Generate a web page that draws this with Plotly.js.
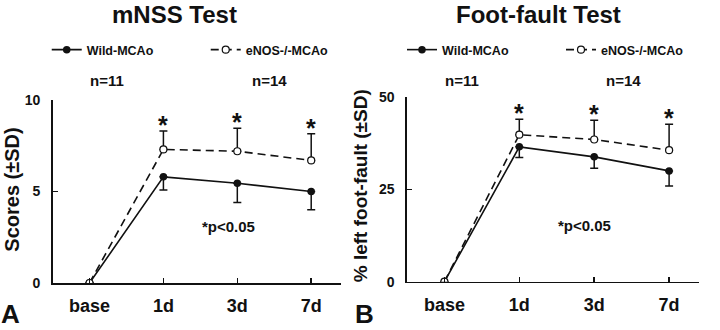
<!DOCTYPE html>
<html><head><meta charset="utf-8">
<script src="https://cdn.plot.ly/plotly-3.0.1.min.js"></script>
<style>html,body{margin:0;padding:0;background:#fff}#c{width:720px;height:330px}</style>
</head><body><div id="c"></div>
<script>
const categories = ['base','1d','3d','7d'];
const seriesNames = ['Wild-MCAo','eNOS-/-MCAo'];
// Panel A: mNSS scores
const wildA = [0, 5.8, 5.45, 5.0];
const wildA_sd = [0, 0.72, 1.05, 1.0];
const enosA = [0, 7.3, 7.2, 6.7];
const enosA_sd = [0, 1.0, 1.25, 1.45];
// Panel B: foot-fault %
const wildB = [0, 36.5, 33.8, 30.0];
const wildB_sd = [0, 2.9, 3.1, 4.1];
const enosB = [0, 39.8, 38.5, 35.6];
const enosB_sd = [0, 4.2, 5.2, 7.0];
const sigIdx = [1, 2, 3];
const yTicksA = [0, 5, 10];
const yTicksB = [0, 25, 50];

const FONT = 'Liberation Sans, Arial, sans-serif';
const INK = '#111';
const zeros = categories.map(() => 0);

function wild(y, sd, xa, ya, leg) {
  return {x: categories, y: y, xaxis: xa, yaxis: ya, name: seriesNames[0], legend: leg,
    mode: 'lines+markers', line: {color: INK, width: 1.6},
    marker: {symbol: 'circle', size: 7.5, color: INK},
    error_y: {type: 'data', symmetric: false, array: zeros, arrayminus: sd, color: INK, thickness: 1.5, width: 4}};
}
function enos(y, sd, xa, ya, leg) {
  return {x: categories, y: y, xaxis: xa, yaxis: ya, name: seriesNames[1], legend: leg,
    mode: 'lines+markers', line: {color: INK, width: 1.6, dash: '8px,5px'},
    marker: {symbol: 'circle', size: 7, color: '#fff', line: {color: INK, width: 1.2}},
    error_y: {type: 'data', symmetric: false, array: sd, arrayminus: zeros, color: INK, thickness: 1.5, width: 4}};
}
const data = [
  wild(wildA, wildA_sd, 'x', 'y', 'legend'),
  enos(enosA, enosA_sd, 'x', 'y', 'legend'),
  wild(wildB, wildB_sd, 'x2', 'y2', 'legend2'),
  enos(enosB, enosB_sd, 'x2', 'y2', 'legend2')
];

const P = (px) => px / 720, Q = (py) => 1 - py / 330;
function xax(dom) {
  return {domain: dom, type: 'category', range: [-0.5, 3.4], showgrid: false, zeroline: false,
    showline: true, linecolor: INK, linewidth: 1.5, ticks: 'inside', ticklen: 5, tickwidth: 1.5, tickcolor: INK,
    tickfont: {family: FONT, size: 18, color: INK, weight: 'bold'}, ticklabelstandoff: 6, fixedrange: true};
}
function yax(dom, rng, tv) {
  return {domain: dom, range: rng, tickvals: tv, showgrid: false, zeroline: false,
    showline: true, linecolor: INK, linewidth: 1.5, ticks: 'inside', ticklen: 5, tickwidth: 1.5, tickcolor: INK,
    tickfont: {family: FONT, size: 14, color: INK, weight: 'bold'}, ticklabelstandoff: 8, fixedrange: true};
}
function txt(t, x, y, size, extra) {
  return Object.assign({text: t, x: P(x), y: Q(y), xref: 'paper', yref: 'paper', showarrow: false,
    xanchor: 'center', yanchor: 'middle', font: {family: FONT, size: size, color: INK, weight: 'bold'}}, extra || {});
}
const ann = [
  txt('mNSS Test', 179, 14, 24),
  txt('Foot-fault Test', 553, 14, 24),
  txt('n=11', 110, 80, 15), txt('n=14', 277, 80, 15),
  txt('n=11', 475, 80, 15), txt('n=14', 640, 80, 15),
  txt('A', 11, 330, 26, {yanchor: 'bottom', borderpad: 0}),
  txt('B', 374, 330, 26, {yanchor: 'bottom', borderpad: 0}),
  txt('Scores (±SD)', 12, 190, 20, {textangle: -90}),
  txt('% left foot-fault (±SD)', 370, 186, 19, {textangle: -90}),
  {text: '*p<0.05', x: 1.88, y: 3.08, xref: 'x', yref: 'y', showarrow: false,
   font: {family: FONT, size: 15, color: INK, weight: 'bold'}},
  {text: '*p<0.05', x: 1.87, y: 15.3, xref: 'x2', yref: 'y2', showarrow: false,
   font: {family: FONT, size: 15, color: INK, weight: 'bold'}}
];
sigIdx.forEach(i => {
  ann.push({text: '*', x: categories[i], y: enosA[i] + enosA_sd[i], xref: 'x', yref: 'y', showarrow: false,
    yanchor: 'bottom', yshift: -10, font: {family: FONT, size: 25, color: INK, weight: 'bold'}});
  ann.push({text: '*', x: categories[i], y: enosB[i] + enosB_sd[i], xref: 'x2', yref: 'y2', showarrow: false,
    yanchor: 'bottom', yshift: -10, font: {family: FONT, size: 25, color: INK, weight: 'bold'}});
});
function leg(x) {
  return {orientation: 'h', x: P(x), y: Q(50), xanchor: 'left', yanchor: 'middle',
    entrywidth: 154 - 40, entrywidthmode: 'pixels', bgcolor: 'rgba(0,0,0,0)', borderwidth: 0,
    font: {family: FONT, size: 12.5, color: INK, weight: 'bold'}};
}
const layout = {
  width: 720, height: 330, margin: {l: 0, r: 0, t: 0, b: 0},
  paper_bgcolor: '#fff', plot_bgcolor: '#fff', showlegend: true,
  font: {family: FONT, color: INK},
  xaxis: xax([P(54), P(350)]), yaxis: yax([Q(283), Q(100)], [0, 10], yTicksA),
  xaxis2: Object.assign(xax([P(418), P(718)]), {anchor: 'y2'}),
  yaxis2: Object.assign(yax([Q(281.7), Q(97)], [0, 50], yTicksB), {anchor: 'x2'}),
  legend: leg(48), legend2: leg(413),
  annotations: ann
};
layout.xaxis.anchor = 'y';
layout.yaxis.anchor = 'x';
Plotly.newPlot('c', data, layout, {staticPlot: true, displayModeBar: false});
</script></body></html>
